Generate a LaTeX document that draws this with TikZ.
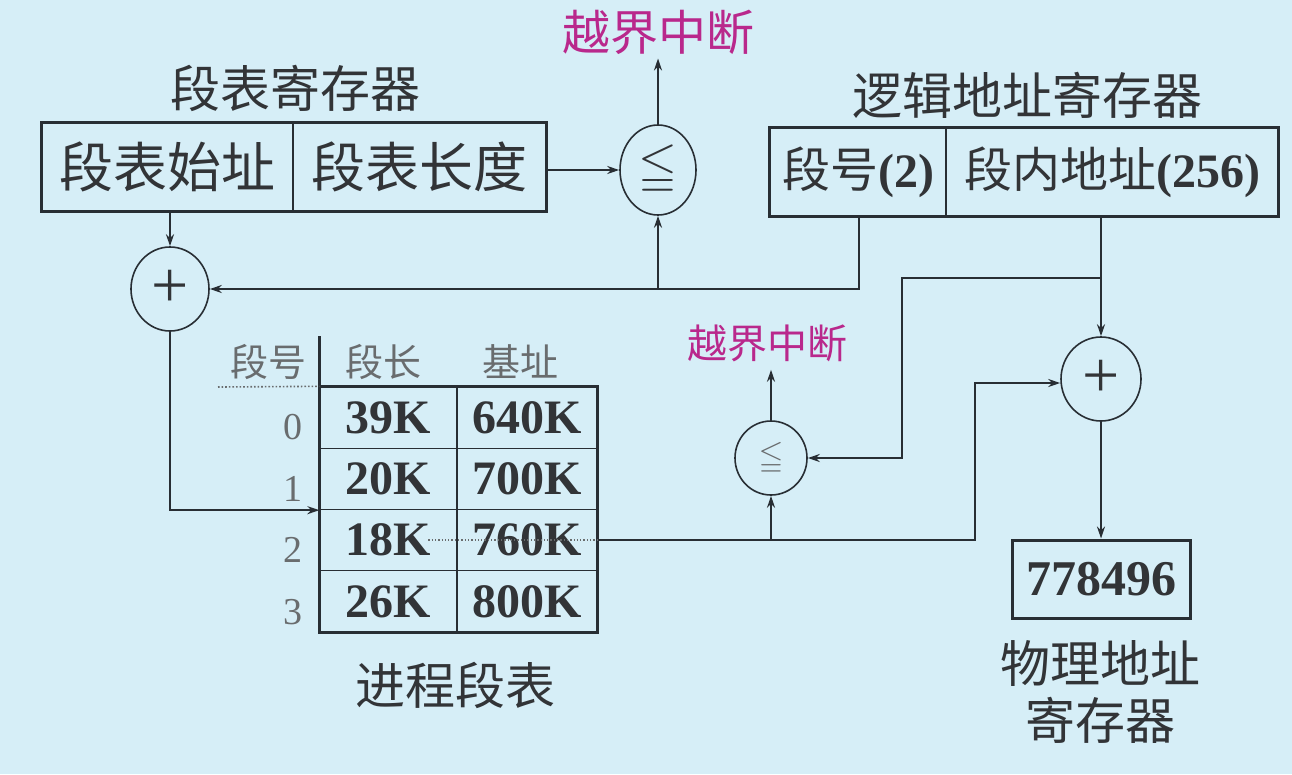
\documentclass[tikz,border=0pt]{standalone}
\usepackage{fontspec}
\usepackage{amssymb}
\setmainfont{Liberation Serif}
\newfontfamily\cjk{Noto Sans CJK SC}
\usetikzlibrary{arrows.meta,shapes.geometric}
\definecolor{bg}{RGB}{214,238,247}
\definecolor{ink}{RGB}{40,46,52}
\definecolor{txt}{RGB}{50,52,55}
\definecolor{mag}{RGB}{185,40,140}
\definecolor{hdr}{RGB}{105,108,110}
\newcommand\fs[1]{\fontsize{#1}{#1}\selectfont}
\tikzset{
  wire/.style={draw=ink, line width=2.6pt},
  arr/.style={wire, -{Stealth[length=12pt,width=8pt]}},
  half/.style={draw=ink, line width=1.3pt, rectangle, inner sep=0pt, text=txt},
  cell/.style={draw=ink, line width=1.3pt, rectangle, inner sep=0pt, text=txt,
    minimum height=61.25pt, font=\fs{48}\bfseries},
  op/.style={draw=ink, line width=1.6pt, ellipse, inner sep=0pt},
  lbl/.style={inner sep=0pt, text=txt},
}
\begin{document}
\begin{tikzpicture}[x=1pt,y=-1pt]
\fill[bg] (0,0) rectangle (1292,774);
\useasboundingbox (0,0) rectangle (1292,774);

% segment table register
\node[lbl, font=\cjk\fs{50}] (lsr) at (295,88) {段表寄存器};
\node[half, minimum width=251pt, minimum height=88pt, font=\cjk\fs{54}] (sa) at (167.5,167) {段表始址};
\node[half, minimum width=253pt, minimum height=88pt, font=\cjk\fs{54}] (sb) at (419.5,167) {段表长度};
\draw[ink, line width=3.5pt] (sa.north west) rectangle (sb.south east);

% top comparator
\node[op, minimum width=76pt, minimum height=90pt] (cmp1) at (658,170) {\color{txt}\scalebox{5}{$\leqq$}};
\node[inner sep=0pt, text=mag, font=\cjk\fs{48}] (int1) at (658,32) {越界中断};

% logical address register
\node[lbl, font=\cjk\fs{50}] (llr) at (1027,95) {逻辑地址寄存器};
\node[half, minimum width=176pt, minimum height=88pt, font=\cjk\fs{48}] (la) at (858,172) {段号{\rmfamily\bfseries(2)}};
\node[half, minimum width=332pt, minimum height=88pt, font=\cjk\fs{48}] (lb) at (1112,172) {段内地址{\rmfamily\bfseries(256)}};
\draw[ink, line width=3.5pt] (la.north west) rectangle (lb.south east);

% adder 1
\node[op, minimum width=78pt, minimum height=84pt, font=\fs{66}] (add1) at (170,289) {\color{txt}+};

% process segment table
\node[cell, minimum width=137pt] (t00) at (388.5,417.6) {39K};
\node[cell, minimum width=140pt] (t01) at (527,417.6) {640K};
\node[cell, minimum width=137pt] (t10) at (388.5,478.9) {20K};
\node[cell, minimum width=140pt] (t11) at (527,478.9) {700K};
\node[cell, minimum width=137pt] (t20) at (388.5,540.1) {18K};
\node[cell, minimum width=140pt] (t21) at (527,540.1) {760K};
\node[cell, minimum width=137pt] (t30) at (388.5,601.4) {26K};
\node[cell, minimum width=140pt] (t31) at (527,601.4) {800K};
\draw[ink, line width=3pt] (t00.north west) rectangle (t31.south east);
\draw[ink, line width=3pt] (t00.north west) -- ++(0,-50);
\draw[hdr, line width=1.3pt, dotted] ([xshift=-28pt]t21.west) -- (t21.east);

\node[lbl, text=hdr, font=\cjk\fs{38}] (h0) at (268,362) {段号};
\node[lbl, text=hdr, font=\cjk\fs{38}] (h1) at (383,362) {段长};
\node[lbl, text=hdr, font=\cjk\fs{38}] (h2) at (520,362) {基址};
\draw[hdr, line width=1.6pt, dotted] (218,387) -- (t00.north west);
\node[lbl, text=hdr, font=\fs{38}] (r0) at (293,427) {0};
\node[lbl, text=hdr, font=\fs{38}] (r1) at (293,489) {1};
\node[lbl, text=hdr, font=\fs{38}] (r2) at (293,550) {2};
\node[lbl, text=hdr, font=\fs{38}] (r3) at (293,612) {3};
\node[lbl, font=\cjk\fs{50}] (lpt) at (455,685) {进程段表};

% small comparator
\node[op, minimum width=72pt, minimum height=74pt] (cmp2) at (771,458) {\color{hdr}\scalebox{3.2}{$\leqq$}};
\node[inner sep=0pt, text=mag, font=\cjk\fs{40}] (int2) at (767,343) {越界中断};

% adder 2
\node[op, minimum width=80pt, minimum height=84pt, font=\fs{66}] (add2) at (1101,379) {\color{txt}+};

% physical address register
\node[draw=ink, line width=3pt, minimum width=178pt, minimum height=78pt, inner sep=0pt, text=txt, font=\fs{50}\bfseries] (phys) at (1101,579) {778496};
\node[lbl, font=\cjk\fs{50}] (lp1) at (1100,663) {物理地址};
\node[lbl, font=\cjk\fs{50}] (lp2) at (1100,720) {寄存器};

% junction coordinates
\coordinate (j1) at (859,289);
\coordinate (j2) at (1101,278);
\coordinate (j3) at (902,278);
\coordinate (j4) at (975,540.1);

% connectors
\draw[arr] (sa.south -| add1.north) -- (add1.north);
\draw[arr] (sb.east |- cmp1.west) -- (cmp1.west);
\draw[arr] (cmp1.north) -- ([yshift=-4pt]int1.south);
\draw[arr] (la.south -| j1) -- (j1) -- (add1.east);
\draw[arr] (cmp1.south |- j1) -- (cmp1.south);
\draw[arr] (add1.south) |- (t10.south west);
\draw[arr] (lb.south -| add2.north) -- (add2.north);
\draw[arr] (j2) -- (j3) |- (cmp2.east);
\draw[arr] (t21.east) -- (j4) |- ([yshift=-4pt]add2.west);
\draw[arr] (cmp2.south |- t21.east) -- (cmp2.south);
\draw[arr] (cmp2.north) -- ([yshift=-8pt]cmp2.north |- int2.south);
\draw[arr] (add2.south) -- (phys.north);
\end{tikzpicture}
\end{document}
